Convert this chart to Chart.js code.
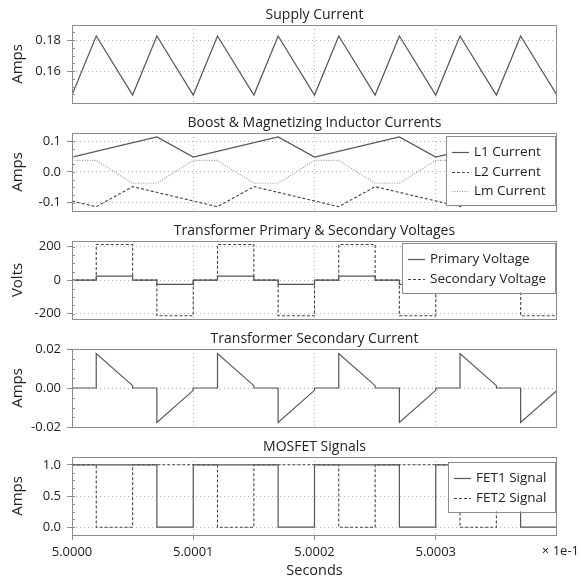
<!DOCTYPE html>
<html><head><meta charset="utf-8">
<script src="https://cdn.jsdelivr.net/npm/chart.js@4.4.1/dist/chart.umd.min.js"></script>
<style>
html,body{margin:0;padding:0;background:#fff;}
#wrap{position:relative;width:581px;height:581px;overflow:hidden;background:#fff;}
canvas{position:absolute;left:0;}
</style></head><body><div id="wrap">
<canvas id="c1"></canvas><canvas id="c2"></canvas><canvas id="c3"></canvas><canvas id="c4"></canvas><canvas id="c5"></canvas>
</div>
<script>
// ---------- DATA (time in microseconds after T0) ----------
const T0_SECONDS = 0.5;
const xTickValuesUs = [0, 10, 20, 30];

// Panel 1: Supply Current
const supplyTimeUs  = [0, 2, 5, 7, 10, 12, 15, 17, 20, 22, 25, 27, 30, 32, 35, 37, 40];
const supplyCurrent = [0.1445, 0.1826, 0.1445, 0.1826, 0.1445, 0.1826, 0.1445, 0.1826, 0.1445, 0.1826, 0.1445, 0.1826, 0.1445, 0.1826, 0.1445, 0.1826, 0.1445];
const supplyTicks = [0.16, 0.18];

// Panel 2: Boost & Magnetizing Inductor Currents
const l1TimeUs  = [0, 7, 10, 17, 20, 27, 30, 37, 40];
const l1Current = [0.048, 0.113, 0.048, 0.113, 0.048, 0.113, 0.048, 0.113, 0.048];
const l2TimeUs  = [0, 2, 5, 12, 15, 22, 25, 32, 35, 40];
const l2Current = [-0.095, -0.113, -0.048, -0.113, -0.048, -0.113, -0.048, -0.113, -0.048, -0.095];
const lmTimeUs  = [0, 2, 5, 7, 10, 12, 15, 17, 20, 22, 25, 27, 30, 32, 35, 37, 40];
const lmCurrent = [0.037, 0.037, -0.037, -0.037, 0.037, 0.037, -0.037, -0.037, 0.037, 0.037, -0.037, -0.037, 0.037, 0.037, -0.037, -0.037, 0.037];
const inductorTicks = [-0.1, 0.0, 0.1];

// Panel 3: Transformer Primary & Secondary Voltages
const voltTimeUs       = [0, 0, 2, 2, 5, 5, 7, 7, 10, 10, 12, 12, 15, 15, 17, 17, 20, 20, 22, 22, 25, 25, 27, 27, 30, 30, 32, 32, 35, 35, 37, 37, 40];
const primaryVoltage   = [-24.5, 0, 0, 24.5, 24.5, 0, 0, -24.5, -24.5, 0, 0, 24.5, 24.5, 0, 0, -24.5, -24.5, 0, 0, 24.5, 24.5, 0, 0, -24.5, -24.5, 0, 0, 24.5, 24.5, 0, 0, -24.5, -24.5];
const secondaryVoltage = [-212, 0, 0, 212, 212, 0, 0, -212, -212, 0, 0, 212, 212, 0, 0, -212, -212, 0, 0, 212, 212, 0, 0, -212, -212, 0, 0, 212, 212, 0, 0, -212, -212];
const voltTicks = [-200, 0, 200];

// Panel 4: Transformer Secondary Current
const secTimeUs   = [0, 2, 2, 5, 5, 7, 7, 10, 10, 12, 12, 15, 15, 17, 17, 20, 20, 22, 22, 25, 25, 27, 27, 30, 30, 32, 32, 35, 35, 37, 37, 40];
const secCurrent  = [0, 0, 0.0177, 0.0012, 0, 0, -0.0177, -0.0012, 0, 0, 0.0177, 0.0012, 0, 0, -0.0177, -0.0012, 0, 0, 0.0177, 0.0012, 0, 0, -0.0177, -0.0012, 0, 0, 0.0177, 0.0012, 0, 0, -0.0177, -0.0012];
const secTicks = [-0.02, 0.0, 0.02];

// Panel 5: MOSFET Signals
const fet1TimeUs = [0, 0, 7, 7, 10, 10, 17, 17, 20, 20, 27, 27, 30, 30, 37, 37, 40];
const fet1Signal = [0, 1, 1, 0, 0, 1, 1, 0, 0, 1, 1, 0, 0, 1, 1, 0, 0];
const fet2TimeUs = [0, 2, 2, 5, 5, 12, 12, 15, 15, 22, 22, 25, 25, 32, 32, 35, 35, 40];
const fet2Signal = [1, 1, 0, 0, 1, 1, 0, 0, 1, 1, 0, 0, 1, 1, 0, 0, 1, 1];
const fetTicks = [0.0, 0.5, 1.0];

// ---------- RENDERING ----------
const FONT = "'Open Sans', 'DejaVu Sans', sans-serif";
Chart.defaults.font.family = FONT;
Chart.defaults.font.size = 13;
Chart.defaults.color = '#222';

const pts = (xs, ys) => xs.map((x, i) => ({x: x, y: ys[i]}));

const STYLE = {
  solid:  {borderColor: '#555', borderDash: [], borderWidth: 1.2},
  dashed: {borderColor: '#444', borderDash: [3, 2], borderWidth: 1.1},
  dotted: {borderColor: '#9a9a9a', borderDash: [1, 1.5], borderWidth: 1.2}
};

const PLOT_LEFT = 72, PLOT_RIGHT = 557, PLOT_H = 78, TOP_SPACE = 25;

const panelPlugin = {
  id: 'panelDecor',
  afterDatasetsDraw(chart) {
    const {ctx, chartArea: a} = chart;
    const ys = chart.scales.y;
    ctx.save();
    ctx.strokeStyle = '#8c8c8c';
    ctx.lineWidth = 1;
    ctx.setLineDash([]);
    ctx.strokeRect(Math.round(a.left) + 0.5, Math.round(a.top) + 0.5, Math.round(a.right - a.left) - 1, Math.round(a.bottom - a.top));
    // minor ticks inside the left border (quarter steps between major ticks)
    const t = chart.options.plugins.panelDecor.yTicks;
    const step = (t[1] - t[0]) / 4;
    ctx.beginPath();
    for (let v = t[0] - 8 * step; v <= t[t.length - 1] + 8 * step + 1e-12; v += step) {
      const py = ys.getPixelForValue(v);
      if (py < a.top + 1 || py > a.bottom - 1) continue;
      const yy = Math.round(py) + 0.5;
      ctx.moveTo(Math.round(a.left) + 1, yy);
      ctx.lineTo(Math.round(a.left) + 3, yy);
    }
    ctx.stroke();
    ctx.restore();
  },
  afterDraw(chart) {
    const o = chart.options.plugins.panelDecor;
    const {ctx, chartArea: a} = chart;
    ctx.save();
    ctx.fillStyle = '#222';
    ctx.textAlign = 'center';
    ctx.textBaseline = 'middle';
    ctx.font = '14px ' + FONT;
    ctx.fillText(o.title, (a.left + a.right) / 2, a.top - 10);
    // y-axis label
    ctx.save();
    ctx.translate(18, (a.top + a.bottom) / 2);
    ctx.rotate(-Math.PI / 2);
    ctx.font = '15px ' + FONT;
    ctx.fillText(o.yLabel, 0, 0);
    ctx.restore();
    if (o.xLabel) {
      ctx.font = '14.5px ' + FONT;
      ctx.fillText(o.xLabel, (a.left + a.right) / 2, a.bottom + 36);
      ctx.textAlign = 'right';
      ctx.font = '13px ' + FONT;
      ctx.fillText('\u00d7 1e-1', 579, a.bottom + 16);
    }
    // legend
    if (o.legend) {
      const items = chart.data.datasets;
      ctx.font = '13.5px ' + FONT;
      let tw = 0;
      items.forEach(d => { tw = Math.max(tw, ctx.measureText(d.label).width); });
      const padL = 6, sample = 17, gap = 5, padR = 9, first = 16, step = 19.5, padB = 14;
      const w = padL + sample + gap + tw + padR;
      const h = first + (items.length - 1) * step + padB;
      const right = Math.round(a.right) - 2;
      const left = Math.round(right - w);
      const top = Math.round(a.top) + o.legendTop;
      ctx.fillStyle = '#fff';
      ctx.fillRect(left, top, right - left, h);
      ctx.strokeStyle = '#8c8c8c';
      ctx.lineWidth = 1;
      ctx.setLineDash([]);
      ctx.strokeRect(left + 0.5, top + 0.5, right - left, Math.round(h));
      items.forEach((d, i) => {
        const y = Math.round(top + first + i * step) + 0.5;
        ctx.strokeStyle = d.borderColor;
        ctx.lineWidth = d.borderWidth;
        ctx.setLineDash(d.borderDash);
        ctx.beginPath();
        ctx.moveTo(left + padL, y);
        ctx.lineTo(left + padL + sample, y);
        ctx.stroke();
        ctx.setLineDash([]);
        ctx.fillStyle = '#222';
        ctx.textAlign = 'left';
        ctx.textBaseline = 'middle';
        ctx.fillText(d.label, left + padL + sample + gap, y);
      });
    }
    ctx.restore();
  }
};

function zeroPad(s) { s.paddingTop = 0; s.paddingBottom = 0; s.paddingLeft = 0; s.paddingRight = 0; }

function makePanel(id, plotTop, cfg) {
  const isLast = !!cfg.xLabel;
  const canvas = document.getElementById(id);
  const bottomSpace = isLast ? 46 : 5;
  const top = plotTop - TOP_SPACE;
  const height = TOP_SPACE + PLOT_H + bottomSpace;
  canvas.width = 581; canvas.height = height;
  canvas.style.top = top + 'px';
  canvas.style.width = '581px'; canvas.style.height = height + 'px';
  new Chart(canvas, {
    type: 'line',
    data: {datasets: cfg.datasets.map(d => Object.assign({
      label: d.label, data: d.data, pointRadius: 0, fill: false, tension: 0,
      borderCapStyle: 'butt', borderJoinStyle: 'miter'
    }, STYLE[d.style]))},
    options: {
      responsive: false, animation: false, devicePixelRatio: 1,
      layout: {padding: {top: TOP_SPACE, left: 0, right: 581 - PLOT_RIGHT, bottom: isLast ? 0 : bottomSpace}},
      plugins: {legend: {display: false}, tooltip: {enabled: false},
        panelDecor: {title: cfg.title, yLabel: cfg.yLabel, xLabel: cfg.xLabel, legend: cfg.legend,
          legendTop: cfg.legendTop || 3, yTicks: cfg.yTicks}},
      scales: {
        x: {
          type: 'linear', min: 0, max: 40,
          afterBuildTicks: s => { s.ticks = xTickValuesUs.map(v => ({value: v})); },
          afterFit: s => { s.height = isLast ? 46 : 0; zeroPad(s); },
          grid: {color: '#b4b4b4', lineWidth: 1, drawTicks: isLast, tickLength: 5, tickColor: '#8c8c8c', tickBorderDash: []},
          border: {display: false, dash: [1, 3]},
          ticks: {display: isLast, padding: 4, maxRotation: 0, font: {size: 13},
            callback: v => (T0_SECONDS * 10 + v * 1e-5).toFixed(4)}
        },
        y: {
          type: 'linear', min: cfg.yMin, max: cfg.yMax,
          afterBuildTicks: s => { s.ticks = cfg.yTicks.map(v => ({value: v})); },
          afterFit: s => { s.width = PLOT_LEFT; zeroPad(s); },
          grid: {color: '#b4b4b4', lineWidth: 1, drawTicks: true, tickLength: 5, tickColor: '#8c8c8c', tickBorderDash: []},
          border: {display: false, dash: [1, 3]},
          ticks: {padding: 6, font: {size: 13}, callback: v => v.toFixed(cfg.decimals)}
        }
      }
    },
    plugins: [panelPlugin]
  });
}

makePanel('c1', 25, {title: 'Supply Current', yLabel: 'Amps', yMin: 0.1394, yMax: 0.1897, yTicks: supplyTicks, decimals: 2,
  datasets: [{label: 'Supply Current', data: pts(supplyTimeUs, supplyCurrent), style: 'solid'}]});
makePanel('c2', 133, {title: 'Boost & Magnetizing Inductor Currents', yLabel: 'Amps', yMin: -0.127, yMax: 0.126, yTicks: inductorTicks, decimals: 1, legend: true, legendTop: 3,
  datasets: [
    {label: 'L1 Current', data: pts(l1TimeUs, l1Current), style: 'solid'},
    {label: 'L2 Current', data: pts(l2TimeUs, l2Current), style: 'dashed'},
    {label: 'Lm Current', data: pts(lmTimeUs, lmCurrent), style: 'dotted'}]});
makePanel('c3', 241, {title: 'Transformer Primary & Secondary Voltages', yLabel: 'Volts', yMin: -231, yMax: 233, yTicks: voltTicks, decimals: 0, legend: true, legendTop: 2,
  datasets: [
    {label: 'Primary Voltage', data: pts(voltTimeUs, primaryVoltage), style: 'solid'},
    {label: 'Secondary Voltage', data: pts(voltTimeUs, secondaryVoltage), style: 'dashed'}]});
makePanel('c4', 349, {title: 'Transformer Secondary Current', yLabel: 'Amps', yMin: -0.02, yMax: 0.02, yTicks: secTicks, decimals: 2,
  datasets: [{label: 'Secondary Current', data: pts(secTimeUs, secCurrent), style: 'solid'}]});
makePanel('c5', 457, {title: 'MOSFET Signals', yLabel: 'Amps', xLabel: 'Seconds', yMin: -0.125, yMax: 1.125, yTicks: fetTicks, decimals: 1, legend: true, legendTop: 5,
  datasets: [
    {label: 'FET1 Signal', data: pts(fet1TimeUs, fet1Signal), style: 'solid'},
    {label: 'FET2 Signal', data: pts(fet2TimeUs, fet2Signal), style: 'dashed'}]});
</script></body></html>
